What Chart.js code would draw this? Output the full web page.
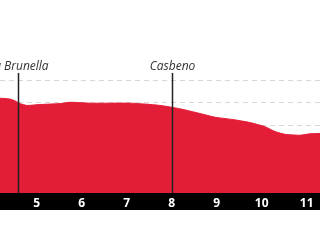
<!DOCTYPE html>
<html>
<head>
<meta charset="utf-8">
<script src="https://cdn.jsdelivr.net/npm/chart.js@4"></script>
<style>
  body { margin: 0; background: #fff; }
  #profile { display: block; }
</style>
</head>
<body>
<canvas id="profile" width="320" height="240"></canvas>
<script>
// distance along the route (km) and elevation (m)
const distanceKm = [4.1, 4.18, 4.41, 4.52, 4.63, 4.78, 5.07, 5.52, 5.74, 6.18, 6.63, 7.07, 7.41, 7.74, 8.0, 8.3, 8.63, 8.96, 9.41, 9.74, 10.07, 10.3, 10.52, 10.85, 11.07, 11.3, 11.4];
const elevationM = [380, 380, 379, 377, 374, 372, 373, 374, 375.5, 374.5, 374.5, 374.5, 373.5, 372, 370, 367, 363, 359, 356, 353, 348.5, 343, 340, 339, 340.5, 341, 341.5];

// named places along the route
const markerKm = [4.58, 8.0];
const markerNames = ["La Brunella", "Casbeno"];

const xTicks = [5, 6, 7, 8, 9, 10, 11];

const RED = "#e31c37";

const axisBand = {
    id: "axisBand",
    beforeDraw(chart) {
        const { ctx, chartArea } = chart;
        const x = chart.scales.x;
        ctx.save();
        ctx.fillStyle = "#000";
        ctx.fillRect(0, chartArea.bottom, chart.width, x.bottom - chartArea.bottom);
        ctx.restore();
    }
};

const markers = {
    id: "markers",
    afterDatasetsDraw(chart) {
        const { ctx, chartArea } = chart;
        const x = chart.scales.x;
        const y = chart.scales.y;
        const top = y.getPixelForValue(408);
        ctx.save();
        markerKm.forEach((km, i) => {
            const px = Math.round(x.getPixelForValue(km)) + 0.5;
            ctx.strokeStyle = "#222";
            ctx.lineWidth = 1.5;
            ctx.beginPath();
            ctx.moveTo(px, top);
            ctx.lineTo(px, chartArea.bottom);
            ctx.stroke();

            ctx.fillStyle = "#333";
            ctx.font = "italic 12px 'Open Sans', sans-serif";
            ctx.textAlign = "center";
            ctx.textBaseline = "alphabetic";
            ctx.fillText(markerNames[i], px, top - 3);
        });
        ctx.restore();
    }
};

new Chart(document.getElementById("profile"), {
    type: "line",
    data: {
        datasets: [{
            data: distanceKm.map((d, i) => ({ x: d, y: elevationM[i] })),
            fill: "start",
            backgroundColor: RED,
            borderColor: RED,
            borderWidth: 1,
            pointRadius: 0,
            tension: 0.2
        }]
    },
    options: {
        responsive: false,
        animation: false,
        layout: { padding: { top: 35, bottom: 30, left: 0, right: 0 } },
        plugins: { legend: { display: false }, tooltip: { enabled: false } },
        scales: {
            x: {
                type: "linear",
                min: 4.184,
                max: 11.295,
                afterBuildTicks(scale) {
                    scale.ticks = xTicks.map(v => ({ value: v }));
                },
                afterFit(scale) {
                    scale.height = 17;
                },
                grid: { display: false, drawTicks: false },
                border: { display: false },
                ticks: {
                    color: "#fff",
                    padding: 3,
                    maxRotation: 0,
                    font: { family: "'Open Sans', sans-serif", size: 12, weight: "bold" }
                }
            },
            y: {
                min: 275,
                max: 450,
                ticks: { display: false, stepSize: 25 },
                border: { display: false, dash: [5, 4] },
                grid: {
                    drawTicks: false,
                    color: (c) => (c.tick && c.tick.value > 275 && c.tick.value <= 400) ? "#d6d6d6" : "rgba(0,0,0,0)",
                    lineWidth: 1
                },
                afterFit(scale) {
                    scale.width = 0;
                }
            }
        }
    },
    plugins: [axisBand, markers]
});
</script>
</body>
</html>
